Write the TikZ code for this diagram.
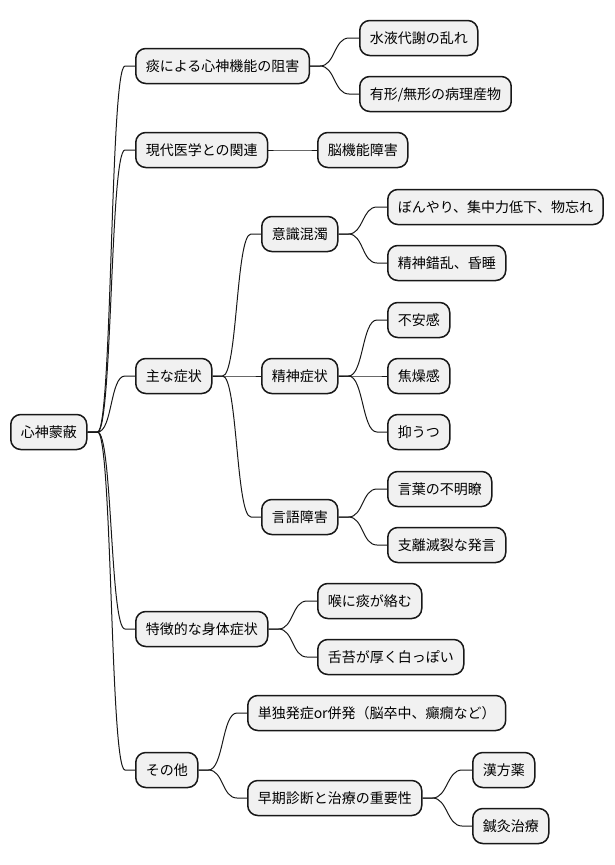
\documentclass[tikz,border=0pt]{standalone}
\usepackage{fontspec}
\setmainfont{Noto Sans CJK JP}
\definecolor{boxfill}{HTML}{F1F1F1}
\definecolor{boxline}{HTML}{181818}
\tikzset{
  mm/.style={draw=boxline, fill=boxfill, line width=1.5pt, rounded corners=10pt,
    anchor=west, minimum height=35pt, inner xsep=10pt, inner ysep=0pt,
    text height=12.3pt, text depth=1.7pt, font=\fontsize{14pt}{16pt}\selectfont, text=black},
  edge/.style={draw=boxline, line width=1pt}
}
\newcommand\mmconn[2]{\draw[edge] (#1.east) -- ++(10,0) .. controls +(15,0) and +(-15,0) .. ([xshift=-10pt]#2.west) -- (#2.west);}
\begin{document}
\begin{tikzpicture}[x=1pt,y=-1pt]
\useasboundingbox (0,0) rectangle (614,865);
\node[mm] (r) at (10,432) {心神蒙蔽};
\node[mm] (a1) at (135,66) {痰による心神機能の阻害};
\node[mm] (a11) at (359,38) {水液代謝の乱れ};
\node[mm] (a12) at (359,94) {有形/無形の病理産物};
\node[mm] (a2) at (135,150) {現代医学との関連};
\node[mm] (a21) at (317,150) {脳機能障害};
\node[mm] (a3) at (135,376) {主な症状};
\node[mm] (a31) at (261,234) {意識混濁};
\node[mm] (a311) at (387,207) {ぼんやり、集中力低下、物忘れ};
\node[mm] (a312) at (387,263) {精神錯乱、昏睡};
\node[mm] (a32) at (261,376) {精神症状};
\node[mm] (a321) at (387,320) {不安感};
\node[mm] (a322) at (387,376) {焦燥感};
\node[mm] (a323) at (387,432) {抑うつ};
\node[mm] (a33) at (261,517) {言語障害};
\node[mm] (a331) at (387,489) {言葉の不明瞭};
\node[mm] (a332) at (387,545) {支離滅裂な発言};
\node[mm] (a4) at (135,629) {特徴的な身体症状};
\node[mm] (a41) at (317,601) {喉に痰が絡む};
\node[mm] (a42) at (317,657) {舌苔が厚く白っぽい};
\node[mm] (a5) at (135,770) {その他};
\node[mm] (a51) at (247,713) {単独発症or併発（脳卒中、癲癇など）};
\node[mm] (a52) at (247,798) {早期診断と治療の重要性};
\node[mm] (a521) at (472,770) {漢方薬};
\node[mm] (a522) at (472,826) {鍼灸治療};
\mmconn{r}{a1}
\mmconn{r}{a2}
\mmconn{r}{a3}
\mmconn{r}{a4}
\mmconn{r}{a5}
\mmconn{a1}{a11}
\mmconn{a1}{a12}
\mmconn{a2}{a21}
\mmconn{a3}{a31}
\mmconn{a3}{a32}
\mmconn{a3}{a33}
\mmconn{a31}{a311}
\mmconn{a31}{a312}
\mmconn{a32}{a321}
\mmconn{a32}{a322}
\mmconn{a32}{a323}
\mmconn{a33}{a331}
\mmconn{a33}{a332}
\mmconn{a4}{a41}
\mmconn{a4}{a42}
\mmconn{a5}{a51}
\mmconn{a5}{a52}
\mmconn{a52}{a521}
\mmconn{a52}{a522}
\end{tikzpicture}
\end{document}
